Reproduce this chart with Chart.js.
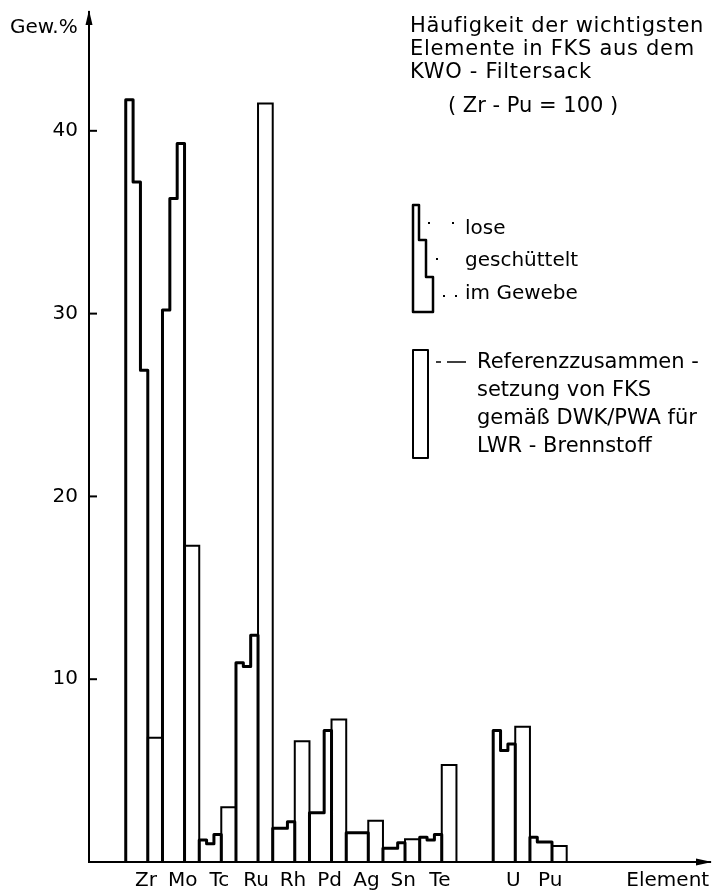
<!DOCTYPE html>
<html>
<head>
  <title>Häufigkeit der wichtigsten Elemente in FKS</title>
  <script src="https://cdn.jsdelivr.net/npm/chart.js"></script>
  <style>
    body { margin: 0; background: #fff; }
    canvas { display: block; }
  </style>
</head>
<body>
  <canvas id="fksChart" width="713" height="893"></canvas>

  <script>
    // elements and their slot on the x axis (slot 10 stays empty)
    const elements = ["Zr", "Mo", "Tc", "Ru", "Rh", "Pd", "Ag", "Sn", "Te", "U", "Pu"];
    const slots = [1, 2, 3, 4, 5, 6, 7, 8, 9, 11, 12];

    // Gew.% per element, three sample states + reference composition
    const lose         = [41.7, 30.2, 1.2, 10.9, 1.85, 2.7, 1.6, 0.75, 1.35, 7.2, 1.35];
    const geschuettelt = [37.2, 36.3, 1.0, 10.7, 1.85, 2.7, 1.6, 0.75, 1.2, 6.1, 1.1];
    const imGewebe     = [26.9, 39.3, 1.5, 12.4, 2.2, 7.2, 1.6, 1.05, 1.5, 6.45, 1.1];
    const referenz     = [6.8, 17.3, 3.0, 41.5, 6.6, 7.8, 2.25, 1.25, 5.3, 7.4, 0.87];

    const yTicks = [10, 20, 30, 40];
    const axisLabel = "Element";
    const axisLabelPos = 15.75;

    const FONT = "DejaVu Sans";

    // outline of the three steps, then the thin reference bar next to it
    const stepSets = elements.map((el, i) => {
      const s = slots[i];
      return {
        label: el,
        data: [
          { x: s, y: 0 }, { x: s, y: lose[i] },
          { x: s + 0.2, y: lose[i] }, { x: s + 0.2, y: geschuettelt[i] },
          { x: s + 0.4, y: geschuettelt[i] }, { x: s + 0.4, y: imGewebe[i] },
          { x: s + 0.6, y: imGewebe[i] }, { x: s + 0.6, y: 0 }
        ],
        borderColor: "#000",
        borderWidth: 3,
        borderJoinStyle: "round",
        pointRadius: 0,
        fill: false,
        tension: 0
      };
    });

    const refSets = elements.map((el, i) => {
      const s = slots[i];
      return {
        label: el + " Referenz",
        data: [
          { x: s + 0.6, y: 0 }, { x: s + 0.6, y: referenz[i] },
          { x: s + 1, y: referenz[i] }, { x: s + 1, y: 0 }
        ],
        borderColor: "#000",
        borderWidth: 2,
        pointRadius: 0,
        fill: false,
        tension: 0
      };
    });

    const tickNames = {};
    elements.forEach((el, i) => { tickNames[(slots[i] + 0.55).toFixed(2)] = el; });
    tickNames[axisLabelPos.toFixed(2)] = axisLabel;

    // arrows, inward tick marks, unit label and the legend block
    const decorations = {
      id: "decorations",
      afterDraw(chart) {
        const c = chart.ctx;
        const a = chart.chartArea;
        const ys = chart.scales.y;
        c.save();
        c.fillStyle = "#000";
        c.strokeStyle = "#000";

        // axis arrows
        c.beginPath();
        c.moveTo(a.left, a.top - 2);
        c.lineTo(a.left - 3.5, a.top + 13);
        c.lineTo(a.left + 3.5, a.top + 13);
        c.closePath();
        c.fill();
        c.beginPath();
        c.moveTo(a.right + 2, a.bottom);
        c.lineTo(a.right - 14, a.bottom - 3.5);
        c.lineTo(a.right - 14, a.bottom + 3.5);
        c.closePath();
        c.fill();

        // tick marks pointing into the plot
        c.lineWidth = 2;
        yTicks.forEach(v => {
          const py = ys.getPixelForValue(v);
          c.beginPath();
          c.moveTo(a.left, py);
          c.lineTo(a.left + 8, py);
          c.stroke();
        });

        c.textBaseline = "alphabetic";
        c.textAlign = "left";
        c.font = "20px '" + FONT + "'";
        c.fillText("Gew.%", 10, 33);

        // title block
        c.font = "21px '" + FONT + "'";
        c.letterSpacing = "0.7px";
        c.fillText("Häufigkeit der wichtigsten", 410, 32);
        c.fillText("Elemente in FKS aus dem", 410, 55);
        c.fillText("KWO - Filtersack", 410, 78);
        c.letterSpacing = "0px";
        c.fillText("( Zr - Pu = 100 )", 448, 112);

        // legend: step symbol
        c.lineWidth = 2.5;
        c.lineJoin = "round";
        c.beginPath();
        c.moveTo(413, 205);
        c.lineTo(419, 205);
        c.lineTo(419, 240);
        c.lineTo(426, 240);
        c.lineTo(426, 277);
        c.lineTo(433, 277);
        c.lineTo(433, 312);
        c.lineTo(413, 312);
        c.closePath();
        c.stroke();

        c.font = "20px '" + FONT + "'";
        c.fillText("lose", 465, 234);
        c.fillText("geschüttelt", 465, 266);
        c.fillText("im Gewebe", 465, 299);

        [[428, 222], [452, 222], [436, 258], [443, 295], [455, 295]].forEach(p => {
          c.fillRect(p[0], p[1], 2, 2);
        });

        // legend: reference bar symbol
        c.lineWidth = 2;
        c.strokeRect(413, 350, 15, 108);
        c.beginPath();
        c.moveTo(436, 362);
        c.lineTo(441, 362);
        c.moveTo(447, 362);
        c.lineTo(466, 362);
        c.lineWidth = 1.5;
        c.stroke();

        c.font = "21px '" + FONT + "'";
        c.fillText("Referenzzusammen -", 477, 368);
        c.fillText("setzung von FKS", 477, 396);
        c.fillText("gemäß DWK/PWA für", 477, 424);
        c.fillText("LWR - Brennstoff", 477, 452);

        c.restore();
      }
    };

    const ctx = document.getElementById("fksChart").getContext("2d");
    new Chart(ctx, {
      type: "line",
      data: { datasets: [...stepSets, ...refSets] },
      options: {
        responsive: false,
        animation: false,
        layout: { padding: { top: 12, right: 3, left: 0, bottom: 0 } },
        plugins: { legend: { display: false }, tooltip: { enabled: false } },
        scales: {
          x: {
            type: "linear",
            min: 0,
            max: 16.9,
            afterFit: scale => {
              scale.height = 31;
              scale.paddingLeft = 0;
              scale.paddingRight = 0;
            },
            afterBuildTicks: scale => {
              scale.ticks = Object.keys(tickNames).map(k => ({ value: parseFloat(k) }));
            },
            grid: { display: false, drawTicks: false },
            border: { display: true, color: "#000", width: 2 },
            ticks: {
              autoSkip: false,
              maxRotation: 0,
              padding: 7,
              color: "#000",
              font: { family: FONT, size: 20 },
              callback: v => tickNames[Number(v).toFixed(2)] || ""
            }
          },
          y: {
            min: 0,
            max: 46.5,
            afterFit: scale => {
              scale.width = 89;
              scale.paddingTop = 0;
              scale.paddingBottom = 0;
            },
            afterBuildTicks: scale => {
              scale.ticks = yTicks.map(v => ({ value: v }));
            },
            grid: { display: false, drawTicks: false },
            border: { display: true, color: "#000", width: 2 },
            ticks: {
              padding: 11,
              color: "#000",
              font: { family: FONT, size: 20 }
            }
          }
        }
      },
      plugins: [decorations]
    });
  </script>
</body>
</html>
